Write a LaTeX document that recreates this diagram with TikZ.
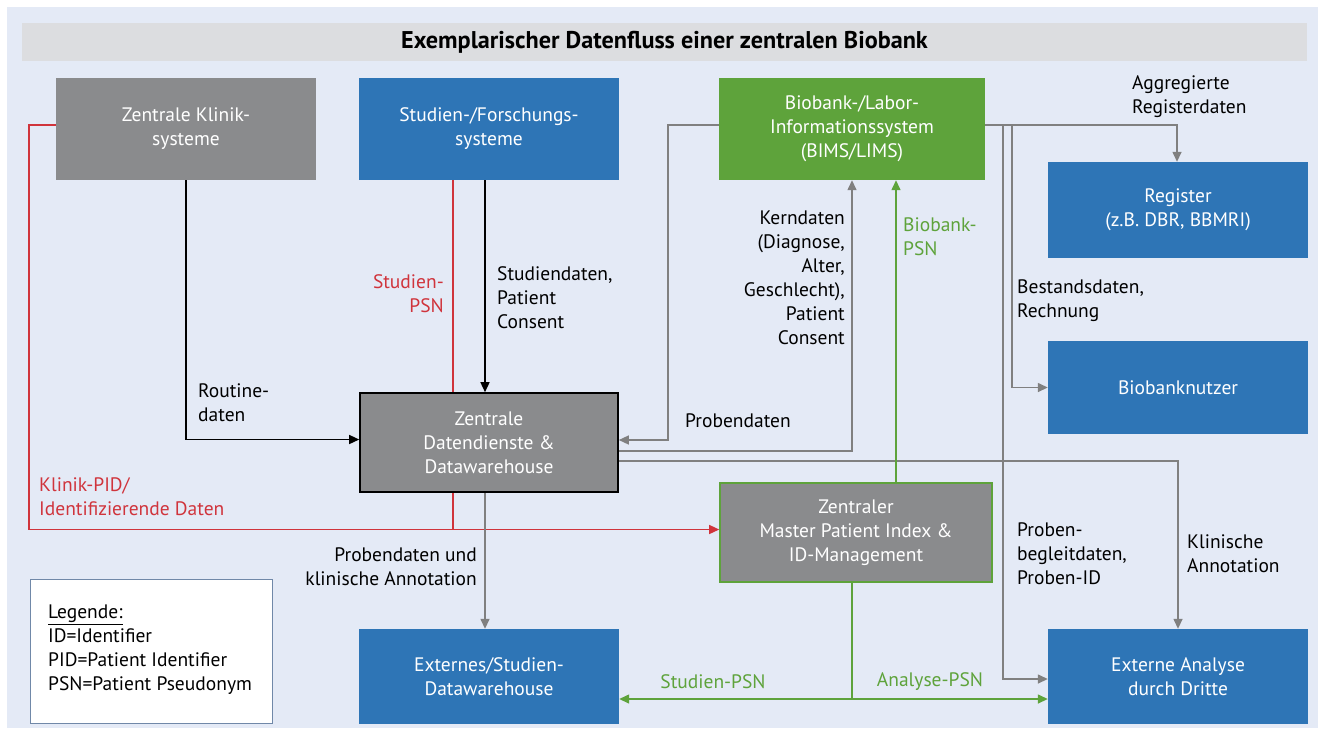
\documentclass[tikz,border=0pt]{standalone}
\usepackage{fontspec}
\setmainfont{PT Sans}
\usetikzlibrary{arrows.meta}
\definecolor{bgc}{HTML}{E4EAF6}
\definecolor{titlec}{HTML}{DCDDE0}
\definecolor{boxgray}{HTML}{8A8B8D}
\definecolor{boxblue}{HTML}{2E75B6}
\definecolor{boxgreen}{HTML}{5EA33B}
\definecolor{redc}{HTML}{D0343C}
\definecolor{linegray}{HTML}{808080}
\definecolor{greenc}{HTML}{5EA33B}
\definecolor{legborder}{HTML}{7088A8}
\pgfdeclarelayer{bgl}
\pgfdeclarelayer{lines}
\pgfsetlayers{bgl,lines,main}
\begin{document}
\begin{tikzpicture}[x=1pt,y=-1pt,
  font=\fontsize{19.5}{24}\selectfont,
  box/.style 2 args={minimum width=#1pt, minimum height=#2pt, inner sep=0pt, align=center, text=white},
  lbl/.style={inner sep=0pt, align=left},
  rlbl/.style={inner sep=0pt, align=right},
  tip/.style={-{Triangle[length=10pt,width=9pt]}},
  dtip/.style={{Triangle[length=10pt,width=9pt]}-{Triangle[length=10pt,width=9pt]}},
  blk/.style={line width=1.4pt, black},
  gry/.style={line width=1.4pt, linegray},
  rd/.style={line width=1.4pt, redc},
  grn/.style={line width=1.4pt, greenc}]
\useasboundingbox (0,0) rectangle (1321,732);
\begin{pgfonlayer}{bgl}
\fill[white] (0,0) rectangle (1321,732);
\fill[bgc] (7,7) rectangle (1318,728);
\end{pgfonlayer}
% title
\node[fill=titlec, minimum width=1285pt, minimum height=38pt, inner sep=0pt, font=\fontsize{24.2}{24}\selectfont\bfseries] (title) at (664.5,42) {Exemplarischer Datenfluss einer zentralen Biobank};
% boxes
\node[box={260}{102}, fill=boxgray] (klinik) at (186,129) {Zentrale Klinik-\\systeme};
\node[box={260}{102}, fill=boxblue] (studien) at (489,129) {Studien-/Forschungs-\\systeme};
\node[box={266}{102}, fill=boxgreen] (bims) at (852,129) {Biobank-/Labor-\\Informationssystem\\(BIMS/LIMS)};
\node[box={260}{96}, fill=boxblue] (register) at (1178,210) {Register\\(z.B. DBR, BBMRI)};
\node[box={260}{93}, fill=boxblue] (nutzer) at (1178,387.5) {Biobanknutzer};
\node[box={258}{99}, fill=boxgray, draw=black, line width=1.6pt] (dwh) at (489,442.5) {Zentrale\\Datendienste \&\\Datawarehouse};
\node[box={272}{99}, fill=boxgray, draw=greenc, line width=1.6pt] (mpi) at (856,532.5) {Zentraler\\Master Patient Index \&\\ID-Management};
\node[box={260}{95}, fill=boxblue] (ext) at (489,676.5) {Externes/Studien-\\Datawarehouse};
\node[box={260}{95}, fill=boxblue] (ana) at (1178,676.5) {Externe Analyse\\durch Dritte};
\node[draw=legborder, line width=1pt, fill=white, minimum width=242pt, minimum height=144pt, inner sep=0pt] (leg) at (151.5,651.5) {};
\node[lbl, anchor=west] (legtext) at (48,650) {\underline{Legende:}\\ID=Identifier\\PID=Patient Identifier\\PSN=Patient Pseudonym};
% helper coordinates
\coordinate (redx) at (29,0);
\coordinate (probx) at (668,0);
\coordinate (bpsnx) at (896,0);
\coordinate (nutzx) at (1012,0);
\coordinate (anax) at (1003,0);
\coordinate (greeny) at (0,699);
\begin{pgfonlayer}{lines}
% black
\draw[blk, tip] (klinik.south) |- ([yshift=3pt]dwh.west);
\draw[blk, tip] ([xshift=-4pt]studien.south) -- ([xshift=-4pt]dwh.north);
% red
\draw[rd, tip] ([yshift=4pt]klinik.west) -| ([yshift=4pt]klinik.west -| redx) |- ([yshift=3pt]mpi.west);
\draw[rd] ([xshift=-36pt]studien.south) -- ([xshift=-36pt,yshift=3pt]studien.south |- mpi.west);
% gray
\draw[gry, tip] ([yshift=4pt]bims.west) -- ([yshift=4pt]bims.west -| probx) |- ([yshift=2.5pt]dwh.east);
\draw[gry, tip] ([yshift=-8.5pt]dwh.east) -| (bims.south);
\draw[gry, tip] ([yshift=-18.5pt]dwh.east) -| (ana.north);
\draw[gry, tip] ([yshift=4pt]bims.east) -| ([xshift=-1pt]register.north);
\draw[gry, tip] ([yshift=4pt]bims.east) -| ([yshift=4pt]bims.east -| nutzx) |- (nutzer.west);
\draw[gry, tip] ([yshift=4pt]bims.east) -| ([yshift=4pt]bims.east -| anax) |- ([yshift=-2.5pt]ana.west);
\draw[gry, tip] ([xshift=-4pt]dwh.south) -- ([xshift=-4pt]ext.north);
% green
\draw[grn, tip] (mpi.north -| bpsnx) -- (bims.south -| bpsnx);
\draw[grn, dtip] (ext.east |- greeny) -- (ana.west |- greeny);
\draw[grn] ([xshift=-4pt]mpi.south) -- ([xshift=-4pt]mpi.south |- greeny);
\end{pgfonlayer}
% labels
\node[lbl, anchor=west] (l1) at (198,403) {Routine-\\daten};
\node[lbl, anchor=west] (l2) at (497,298) {Studiendaten,\\Patient\\Consent};
\node[rlbl, anchor=east, text=redc] (l3) at (444,294) {Studien-\\PSN};
\node[lbl, anchor=west, text=redc] (l4) at (39,497) {Klinik-PID/\\Identifizierende Daten};
\node[lbl, anchor=west] (l5) at (685,421) {Probendaten};
\node[rlbl, anchor=east] (l6) at (845,278) {Kerndaten\\(Diagnose,\\Alter,\\Geschlecht),\\Patient\\Consent};
\node[lbl, anchor=west, text=greenc] (l7) at (903,237) {Biobank-\\PSN};
\node[lbl, anchor=west] (l8) at (1132,97) {Aggregierte\\Registerdaten};
\node[lbl, anchor=west] (l9) at (1017,301) {Bestandsdaten,\\Rechnung};
\node[lbl, anchor=west] (l10) at (1017,554) {Proben-\\begleitdaten,\\Proben-ID};
\node[lbl, anchor=west] (l11) at (1187,554) {Klinische\\Annotation};
\node[rlbl, anchor=east] (l12) at (477,567) {Probendaten und\\klinische Annotation};
\node[inner sep=0pt, text=greenc] (l13) at (713,682) {Studien-PSN};
\node[inner sep=0pt, text=greenc] (l14) at (930,682) {Analyse-PSN};
\end{tikzpicture}
\end{document}
